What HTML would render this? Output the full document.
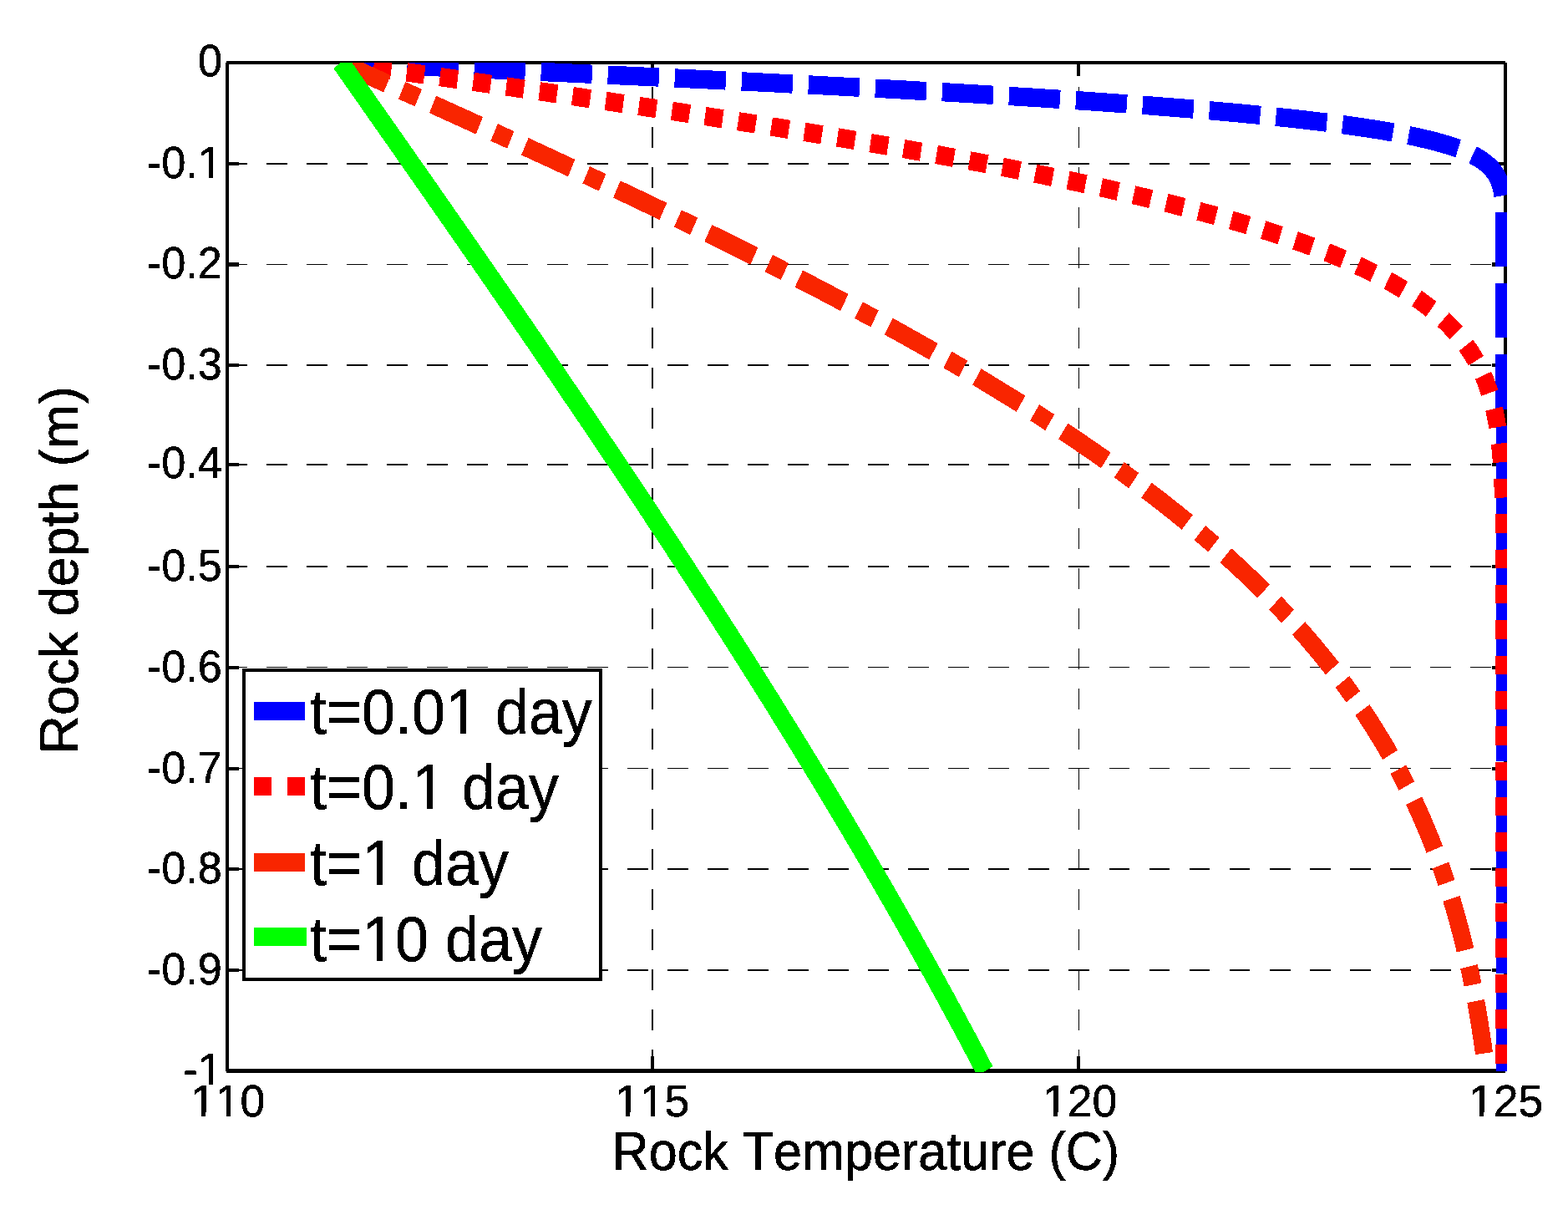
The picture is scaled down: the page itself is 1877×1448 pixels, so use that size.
<!DOCTYPE html>
<html lang="en"><head><meta charset="utf-8"><title>Rock temperature vs depth</title>
<style>html,body{margin:0;padding:0;background:#fff}body{width:1877px;height:1448px;overflow:hidden}svg{display:block}text{font-family:"Liberation Sans",sans-serif;fill:#000;font-kerning:none;font-variant-ligatures:none}</style>
</head><body>
<svg width="1877" height="1448" viewBox="0 0 1877 1448">
<rect x="0" y="0" width="1877" height="1448" fill="#fff"/>
<defs><clipPath id="ax"><rect x="270" y="75" width="1534" height="1208"/></clipPath>
<filter id="bin" x="-5%" y="-5%" width="110%" height="110%" color-interpolation-filters="sRGB"><feComponentTransfer><feFuncA type="discrete" tableValues="0 1"/></feComponentTransfer></filter></defs>
<g shape-rendering="crispEdges" fill="#000">
<rect x="270.8" y="195" width="24.9" height="2"/>
<rect x="318.8" y="195" width="24.9" height="2"/>
<rect x="366.9" y="195" width="24.9" height="2"/>
<rect x="414.9" y="195" width="24.9" height="2"/>
<rect x="462.9" y="195" width="24.9" height="2"/>
<rect x="510.9" y="195" width="24.9" height="2"/>
<rect x="559.0" y="195" width="24.9" height="2"/>
<rect x="607.0" y="195" width="24.9" height="2"/>
<rect x="655.0" y="195" width="24.9" height="2"/>
<rect x="703.1" y="195" width="24.9" height="2"/>
<rect x="751.1" y="195" width="24.9" height="2"/>
<rect x="799.1" y="195" width="24.9" height="2"/>
<rect x="847.2" y="195" width="24.9" height="2"/>
<rect x="895.2" y="195" width="24.9" height="2"/>
<rect x="943.2" y="195" width="24.9" height="2"/>
<rect x="991.2" y="195" width="24.9" height="2"/>
<rect x="1039.3" y="195" width="24.9" height="2"/>
<rect x="1087.3" y="195" width="24.9" height="2"/>
<rect x="1135.3" y="195" width="24.9" height="2"/>
<rect x="1183.4" y="195" width="24.9" height="2"/>
<rect x="1231.4" y="195" width="24.9" height="2"/>
<rect x="1279.4" y="195" width="24.9" height="2"/>
<rect x="1327.5" y="195" width="24.9" height="2"/>
<rect x="1375.5" y="195" width="24.9" height="2"/>
<rect x="1423.5" y="195" width="24.9" height="2"/>
<rect x="1471.5" y="195" width="24.9" height="2"/>
<rect x="1519.6" y="195" width="24.9" height="2"/>
<rect x="1567.6" y="195" width="24.9" height="2"/>
<rect x="1615.6" y="195" width="24.9" height="2"/>
<rect x="1663.7" y="195" width="24.9" height="2"/>
<rect x="1711.7" y="195" width="24.9" height="2"/>
<rect x="1759.7" y="195" width="24.9" height="2"/>
<rect x="270.8" y="316" width="24.9" height="1"/>
<rect x="318.8" y="316" width="24.9" height="1"/>
<rect x="366.9" y="316" width="24.9" height="1"/>
<rect x="414.9" y="316" width="24.9" height="1"/>
<rect x="462.9" y="316" width="24.9" height="1"/>
<rect x="510.9" y="316" width="24.9" height="1"/>
<rect x="559.0" y="316" width="24.9" height="1"/>
<rect x="607.0" y="316" width="24.9" height="1"/>
<rect x="655.0" y="316" width="24.9" height="1"/>
<rect x="703.1" y="316" width="24.9" height="1"/>
<rect x="751.1" y="316" width="24.9" height="1"/>
<rect x="799.1" y="316" width="24.9" height="1"/>
<rect x="847.2" y="316" width="24.9" height="1"/>
<rect x="895.2" y="316" width="24.9" height="1"/>
<rect x="943.2" y="316" width="24.9" height="1"/>
<rect x="991.2" y="316" width="24.9" height="1"/>
<rect x="1039.3" y="316" width="24.9" height="1"/>
<rect x="1087.3" y="316" width="24.9" height="1"/>
<rect x="1135.3" y="316" width="24.9" height="1"/>
<rect x="1183.4" y="316" width="24.9" height="1"/>
<rect x="1231.4" y="316" width="24.9" height="1"/>
<rect x="1279.4" y="316" width="24.9" height="1"/>
<rect x="1327.5" y="316" width="24.9" height="1"/>
<rect x="1375.5" y="316" width="24.9" height="1"/>
<rect x="1423.5" y="316" width="24.9" height="1"/>
<rect x="1471.5" y="316" width="24.9" height="1"/>
<rect x="1519.6" y="316" width="24.9" height="1"/>
<rect x="1567.6" y="316" width="24.9" height="1"/>
<rect x="1615.6" y="316" width="24.9" height="1"/>
<rect x="1663.7" y="316" width="24.9" height="1"/>
<rect x="1711.7" y="316" width="24.9" height="1"/>
<rect x="1759.7" y="316" width="24.9" height="1"/>
<rect x="270.8" y="436" width="24.9" height="2"/>
<rect x="318.8" y="436" width="24.9" height="2"/>
<rect x="366.9" y="436" width="24.9" height="2"/>
<rect x="414.9" y="436" width="24.9" height="2"/>
<rect x="462.9" y="436" width="24.9" height="2"/>
<rect x="510.9" y="436" width="24.9" height="2"/>
<rect x="559.0" y="436" width="24.9" height="2"/>
<rect x="607.0" y="436" width="24.9" height="2"/>
<rect x="655.0" y="436" width="24.9" height="2"/>
<rect x="703.1" y="436" width="24.9" height="2"/>
<rect x="751.1" y="436" width="24.9" height="2"/>
<rect x="799.1" y="436" width="24.9" height="2"/>
<rect x="847.2" y="436" width="24.9" height="2"/>
<rect x="895.2" y="436" width="24.9" height="2"/>
<rect x="943.2" y="436" width="24.9" height="2"/>
<rect x="991.2" y="436" width="24.9" height="2"/>
<rect x="1039.3" y="436" width="24.9" height="2"/>
<rect x="1087.3" y="436" width="24.9" height="2"/>
<rect x="1135.3" y="436" width="24.9" height="2"/>
<rect x="1183.4" y="436" width="24.9" height="2"/>
<rect x="1231.4" y="436" width="24.9" height="2"/>
<rect x="1279.4" y="436" width="24.9" height="2"/>
<rect x="1327.5" y="436" width="24.9" height="2"/>
<rect x="1375.5" y="436" width="24.9" height="2"/>
<rect x="1423.5" y="436" width="24.9" height="2"/>
<rect x="1471.5" y="436" width="24.9" height="2"/>
<rect x="1519.6" y="436" width="24.9" height="2"/>
<rect x="1567.6" y="436" width="24.9" height="2"/>
<rect x="1615.6" y="436" width="24.9" height="2"/>
<rect x="1663.7" y="436" width="24.9" height="2"/>
<rect x="1711.7" y="436" width="24.9" height="2"/>
<rect x="1759.7" y="436" width="24.9" height="2"/>
<rect x="270.8" y="555" width="24.9" height="2"/>
<rect x="318.8" y="555" width="24.9" height="2"/>
<rect x="366.9" y="555" width="24.9" height="2"/>
<rect x="414.9" y="555" width="24.9" height="2"/>
<rect x="462.9" y="555" width="24.9" height="2"/>
<rect x="510.9" y="555" width="24.9" height="2"/>
<rect x="559.0" y="555" width="24.9" height="2"/>
<rect x="607.0" y="555" width="24.9" height="2"/>
<rect x="655.0" y="555" width="24.9" height="2"/>
<rect x="703.1" y="555" width="24.9" height="2"/>
<rect x="751.1" y="555" width="24.9" height="2"/>
<rect x="799.1" y="555" width="24.9" height="2"/>
<rect x="847.2" y="555" width="24.9" height="2"/>
<rect x="895.2" y="555" width="24.9" height="2"/>
<rect x="943.2" y="555" width="24.9" height="2"/>
<rect x="991.2" y="555" width="24.9" height="2"/>
<rect x="1039.3" y="555" width="24.9" height="2"/>
<rect x="1087.3" y="555" width="24.9" height="2"/>
<rect x="1135.3" y="555" width="24.9" height="2"/>
<rect x="1183.4" y="555" width="24.9" height="2"/>
<rect x="1231.4" y="555" width="24.9" height="2"/>
<rect x="1279.4" y="555" width="24.9" height="2"/>
<rect x="1327.5" y="555" width="24.9" height="2"/>
<rect x="1375.5" y="555" width="24.9" height="2"/>
<rect x="1423.5" y="555" width="24.9" height="2"/>
<rect x="1471.5" y="555" width="24.9" height="2"/>
<rect x="1519.6" y="555" width="24.9" height="2"/>
<rect x="1567.6" y="555" width="24.9" height="2"/>
<rect x="1615.6" y="555" width="24.9" height="2"/>
<rect x="1663.7" y="555" width="24.9" height="2"/>
<rect x="1711.7" y="555" width="24.9" height="2"/>
<rect x="1759.7" y="555" width="24.9" height="2"/>
<rect x="270.8" y="677" width="24.9" height="2"/>
<rect x="318.8" y="677" width="24.9" height="2"/>
<rect x="366.9" y="677" width="24.9" height="2"/>
<rect x="414.9" y="677" width="24.9" height="2"/>
<rect x="462.9" y="677" width="24.9" height="2"/>
<rect x="510.9" y="677" width="24.9" height="2"/>
<rect x="559.0" y="677" width="24.9" height="2"/>
<rect x="607.0" y="677" width="24.9" height="2"/>
<rect x="655.0" y="677" width="24.9" height="2"/>
<rect x="703.1" y="677" width="24.9" height="2"/>
<rect x="751.1" y="677" width="24.9" height="2"/>
<rect x="799.1" y="677" width="24.9" height="2"/>
<rect x="847.2" y="677" width="24.9" height="2"/>
<rect x="895.2" y="677" width="24.9" height="2"/>
<rect x="943.2" y="677" width="24.9" height="2"/>
<rect x="991.2" y="677" width="24.9" height="2"/>
<rect x="1039.3" y="677" width="24.9" height="2"/>
<rect x="1087.3" y="677" width="24.9" height="2"/>
<rect x="1135.3" y="677" width="24.9" height="2"/>
<rect x="1183.4" y="677" width="24.9" height="2"/>
<rect x="1231.4" y="677" width="24.9" height="2"/>
<rect x="1279.4" y="677" width="24.9" height="2"/>
<rect x="1327.5" y="677" width="24.9" height="2"/>
<rect x="1375.5" y="677" width="24.9" height="2"/>
<rect x="1423.5" y="677" width="24.9" height="2"/>
<rect x="1471.5" y="677" width="24.9" height="2"/>
<rect x="1519.6" y="677" width="24.9" height="2"/>
<rect x="1567.6" y="677" width="24.9" height="2"/>
<rect x="1615.6" y="677" width="24.9" height="2"/>
<rect x="1663.7" y="677" width="24.9" height="2"/>
<rect x="1711.7" y="677" width="24.9" height="2"/>
<rect x="1759.7" y="677" width="24.9" height="2"/>
<rect x="270.8" y="798" width="24.9" height="1"/>
<rect x="318.8" y="798" width="24.9" height="1"/>
<rect x="366.9" y="798" width="24.9" height="1"/>
<rect x="414.9" y="798" width="24.9" height="1"/>
<rect x="462.9" y="798" width="24.9" height="1"/>
<rect x="510.9" y="798" width="24.9" height="1"/>
<rect x="559.0" y="798" width="24.9" height="1"/>
<rect x="607.0" y="798" width="24.9" height="1"/>
<rect x="655.0" y="798" width="24.9" height="1"/>
<rect x="703.1" y="798" width="24.9" height="1"/>
<rect x="751.1" y="798" width="24.9" height="1"/>
<rect x="799.1" y="798" width="24.9" height="1"/>
<rect x="847.2" y="798" width="24.9" height="1"/>
<rect x="895.2" y="798" width="24.9" height="1"/>
<rect x="943.2" y="798" width="24.9" height="1"/>
<rect x="991.2" y="798" width="24.9" height="1"/>
<rect x="1039.3" y="798" width="24.9" height="1"/>
<rect x="1087.3" y="798" width="24.9" height="1"/>
<rect x="1135.3" y="798" width="24.9" height="1"/>
<rect x="1183.4" y="798" width="24.9" height="1"/>
<rect x="1231.4" y="798" width="24.9" height="1"/>
<rect x="1279.4" y="798" width="24.9" height="1"/>
<rect x="1327.5" y="798" width="24.9" height="1"/>
<rect x="1375.5" y="798" width="24.9" height="1"/>
<rect x="1423.5" y="798" width="24.9" height="1"/>
<rect x="1471.5" y="798" width="24.9" height="1"/>
<rect x="1519.6" y="798" width="24.9" height="1"/>
<rect x="1567.6" y="798" width="24.9" height="1"/>
<rect x="1615.6" y="798" width="24.9" height="1"/>
<rect x="1663.7" y="798" width="24.9" height="1"/>
<rect x="1711.7" y="798" width="24.9" height="1"/>
<rect x="1759.7" y="798" width="24.9" height="1"/>
<rect x="270.8" y="919" width="24.9" height="1"/>
<rect x="318.8" y="919" width="24.9" height="1"/>
<rect x="366.9" y="919" width="24.9" height="1"/>
<rect x="414.9" y="919" width="24.9" height="1"/>
<rect x="462.9" y="919" width="24.9" height="1"/>
<rect x="510.9" y="919" width="24.9" height="1"/>
<rect x="559.0" y="919" width="24.9" height="1"/>
<rect x="607.0" y="919" width="24.9" height="1"/>
<rect x="655.0" y="919" width="24.9" height="1"/>
<rect x="703.1" y="919" width="24.9" height="1"/>
<rect x="751.1" y="919" width="24.9" height="1"/>
<rect x="799.1" y="919" width="24.9" height="1"/>
<rect x="847.2" y="919" width="24.9" height="1"/>
<rect x="895.2" y="919" width="24.9" height="1"/>
<rect x="943.2" y="919" width="24.9" height="1"/>
<rect x="991.2" y="919" width="24.9" height="1"/>
<rect x="1039.3" y="919" width="24.9" height="1"/>
<rect x="1087.3" y="919" width="24.9" height="1"/>
<rect x="1135.3" y="919" width="24.9" height="1"/>
<rect x="1183.4" y="919" width="24.9" height="1"/>
<rect x="1231.4" y="919" width="24.9" height="1"/>
<rect x="1279.4" y="919" width="24.9" height="1"/>
<rect x="1327.5" y="919" width="24.9" height="1"/>
<rect x="1375.5" y="919" width="24.9" height="1"/>
<rect x="1423.5" y="919" width="24.9" height="1"/>
<rect x="1471.5" y="919" width="24.9" height="1"/>
<rect x="1519.6" y="919" width="24.9" height="1"/>
<rect x="1567.6" y="919" width="24.9" height="1"/>
<rect x="1615.6" y="919" width="24.9" height="1"/>
<rect x="1663.7" y="919" width="24.9" height="1"/>
<rect x="1711.7" y="919" width="24.9" height="1"/>
<rect x="1759.7" y="919" width="24.9" height="1"/>
<rect x="270.8" y="1039" width="24.9" height="2"/>
<rect x="318.8" y="1039" width="24.9" height="2"/>
<rect x="366.9" y="1039" width="24.9" height="2"/>
<rect x="414.9" y="1039" width="24.9" height="2"/>
<rect x="462.9" y="1039" width="24.9" height="2"/>
<rect x="510.9" y="1039" width="24.9" height="2"/>
<rect x="559.0" y="1039" width="24.9" height="2"/>
<rect x="607.0" y="1039" width="24.9" height="2"/>
<rect x="655.0" y="1039" width="24.9" height="2"/>
<rect x="703.1" y="1039" width="24.9" height="2"/>
<rect x="751.1" y="1039" width="24.9" height="2"/>
<rect x="799.1" y="1039" width="24.9" height="2"/>
<rect x="847.2" y="1039" width="24.9" height="2"/>
<rect x="895.2" y="1039" width="24.9" height="2"/>
<rect x="943.2" y="1039" width="24.9" height="2"/>
<rect x="991.2" y="1039" width="24.9" height="2"/>
<rect x="1039.3" y="1039" width="24.9" height="2"/>
<rect x="1087.3" y="1039" width="24.9" height="2"/>
<rect x="1135.3" y="1039" width="24.9" height="2"/>
<rect x="1183.4" y="1039" width="24.9" height="2"/>
<rect x="1231.4" y="1039" width="24.9" height="2"/>
<rect x="1279.4" y="1039" width="24.9" height="2"/>
<rect x="1327.5" y="1039" width="24.9" height="2"/>
<rect x="1375.5" y="1039" width="24.9" height="2"/>
<rect x="1423.5" y="1039" width="24.9" height="2"/>
<rect x="1471.5" y="1039" width="24.9" height="2"/>
<rect x="1519.6" y="1039" width="24.9" height="2"/>
<rect x="1567.6" y="1039" width="24.9" height="2"/>
<rect x="1615.6" y="1039" width="24.9" height="2"/>
<rect x="1663.7" y="1039" width="24.9" height="2"/>
<rect x="1711.7" y="1039" width="24.9" height="2"/>
<rect x="1759.7" y="1039" width="24.9" height="2"/>
<rect x="270.8" y="1160" width="24.9" height="2"/>
<rect x="318.8" y="1160" width="24.9" height="2"/>
<rect x="366.9" y="1160" width="24.9" height="2"/>
<rect x="414.9" y="1160" width="24.9" height="2"/>
<rect x="462.9" y="1160" width="24.9" height="2"/>
<rect x="510.9" y="1160" width="24.9" height="2"/>
<rect x="559.0" y="1160" width="24.9" height="2"/>
<rect x="607.0" y="1160" width="24.9" height="2"/>
<rect x="655.0" y="1160" width="24.9" height="2"/>
<rect x="703.1" y="1160" width="24.9" height="2"/>
<rect x="751.1" y="1160" width="24.9" height="2"/>
<rect x="799.1" y="1160" width="24.9" height="2"/>
<rect x="847.2" y="1160" width="24.9" height="2"/>
<rect x="895.2" y="1160" width="24.9" height="2"/>
<rect x="943.2" y="1160" width="24.9" height="2"/>
<rect x="991.2" y="1160" width="24.9" height="2"/>
<rect x="1039.3" y="1160" width="24.9" height="2"/>
<rect x="1087.3" y="1160" width="24.9" height="2"/>
<rect x="1135.3" y="1160" width="24.9" height="2"/>
<rect x="1183.4" y="1160" width="24.9" height="2"/>
<rect x="1231.4" y="1160" width="24.9" height="2"/>
<rect x="1279.4" y="1160" width="24.9" height="2"/>
<rect x="1327.5" y="1160" width="24.9" height="2"/>
<rect x="1375.5" y="1160" width="24.9" height="2"/>
<rect x="1423.5" y="1160" width="24.9" height="2"/>
<rect x="1471.5" y="1160" width="24.9" height="2"/>
<rect x="1519.6" y="1160" width="24.9" height="2"/>
<rect x="1567.6" y="1160" width="24.9" height="2"/>
<rect x="1615.6" y="1160" width="24.9" height="2"/>
<rect x="1663.7" y="1160" width="24.9" height="2"/>
<rect x="1711.7" y="1160" width="24.9" height="2"/>
<rect x="1759.7" y="1160" width="24.9" height="2"/>
<rect x="780" y="1256.4" width="2" height="24.6"/>
<rect x="780" y="1208.4" width="2" height="24.6"/>
<rect x="780" y="1160.4" width="2" height="24.6"/>
<rect x="780" y="1112.4" width="2" height="24.6"/>
<rect x="780" y="1064.4" width="2" height="24.6"/>
<rect x="780" y="1016.4" width="2" height="24.6"/>
<rect x="780" y="968.4" width="2" height="24.6"/>
<rect x="780" y="920.4" width="2" height="24.6"/>
<rect x="780" y="872.4" width="2" height="24.6"/>
<rect x="780" y="824.4" width="2" height="24.6"/>
<rect x="780" y="776.4" width="2" height="24.6"/>
<rect x="780" y="728.4" width="2" height="24.6"/>
<rect x="780" y="680.4" width="2" height="24.6"/>
<rect x="780" y="632.4" width="2" height="24.6"/>
<rect x="780" y="584.4" width="2" height="24.6"/>
<rect x="780" y="536.4" width="2" height="24.6"/>
<rect x="780" y="488.4" width="2" height="24.6"/>
<rect x="780" y="440.4" width="2" height="24.6"/>
<rect x="780" y="392.4" width="2" height="24.6"/>
<rect x="780" y="344.4" width="2" height="24.6"/>
<rect x="780" y="296.4" width="2" height="24.6"/>
<rect x="780" y="248.4" width="2" height="24.6"/>
<rect x="780" y="200.4" width="2" height="24.6"/>
<rect x="780" y="152.4" width="2" height="24.6"/>
<rect x="780" y="104.4" width="2" height="24.6"/>
<rect x="780" y="77.0" width="2" height="4.0"/>
<rect x="1291" y="1256.4" width="1" height="24.6"/>
<rect x="1291" y="1208.4" width="1" height="24.6"/>
<rect x="1291" y="1160.4" width="1" height="24.6"/>
<rect x="1291" y="1112.4" width="1" height="24.6"/>
<rect x="1291" y="1064.4" width="1" height="24.6"/>
<rect x="1291" y="1016.4" width="1" height="24.6"/>
<rect x="1291" y="968.4" width="1" height="24.6"/>
<rect x="1291" y="920.4" width="1" height="24.6"/>
<rect x="1291" y="872.4" width="1" height="24.6"/>
<rect x="1291" y="824.4" width="1" height="24.6"/>
<rect x="1291" y="776.4" width="1" height="24.6"/>
<rect x="1291" y="728.4" width="1" height="24.6"/>
<rect x="1291" y="680.4" width="1" height="24.6"/>
<rect x="1291" y="632.4" width="1" height="24.6"/>
<rect x="1291" y="584.4" width="1" height="24.6"/>
<rect x="1291" y="536.4" width="1" height="24.6"/>
<rect x="1291" y="488.4" width="1" height="24.6"/>
<rect x="1291" y="440.4" width="1" height="24.6"/>
<rect x="1291" y="392.4" width="1" height="24.6"/>
<rect x="1291" y="344.4" width="1" height="24.6"/>
<rect x="1291" y="296.4" width="1" height="24.6"/>
<rect x="1291" y="248.4" width="1" height="24.6"/>
<rect x="1291" y="200.4" width="1" height="24.6"/>
<rect x="1291" y="152.4" width="1" height="24.6"/>
<rect x="1291" y="104.4" width="1" height="24.6"/>
<rect x="1291" y="77.0" width="1" height="4.0"/>
</g>
<g shape-rendering="crispEdges" fill="#000">
<rect x="271" y="73" width="1531" height="4"/>
<rect x="271" y="1279" width="1531" height="5"/>
<rect x="270" y="75" width="4" height="1207"/>
<rect x="1800" y="75" width="4" height="1207"/>
<rect x="779" y="77" width="4" height="13.5"/>
<rect x="779" y="1264" width="4" height="15"/>
<rect x="1289" y="77" width="4" height="13.5"/>
<rect x="1289" y="1264" width="4" height="15"/>
<rect x="274" y="194" width="12" height="4"/>
<rect x="1786" y="194" width="14" height="4"/>
<rect x="274" y="314" width="12" height="5"/>
<rect x="1786" y="314" width="14" height="5"/>
<rect x="274" y="435" width="12" height="4"/>
<rect x="1786" y="435" width="14" height="4"/>
<rect x="274" y="554" width="12" height="4"/>
<rect x="1786" y="554" width="14" height="4"/>
<rect x="274" y="676" width="12" height="4"/>
<rect x="1786" y="676" width="14" height="4"/>
<rect x="274" y="797" width="12" height="4"/>
<rect x="1786" y="797" width="14" height="4"/>
<rect x="274" y="918" width="12" height="4"/>
<rect x="1786" y="918" width="14" height="4"/>
<rect x="274" y="1038" width="12" height="4"/>
<rect x="1786" y="1038" width="14" height="4"/>
<rect x="274" y="1159" width="12" height="4"/>
<rect x="1786" y="1159" width="14" height="4"/>
</g>
<g clip-path="url(#ax)"><g transform="scale(0.9426,0.9962)" fill="none" stroke-linecap="butt" stroke-linejoin="round" shape-rendering="crispEdges">
<path d="M432.3 75.3 L438.2 75.5 L444.1 75.8 L450.0 76.0 L455.9 76.3 L461.8 76.5 L467.7 76.8 L473.6 77.0 L479.5 77.3 L485.4 77.6 L491.4 77.8 L497.3 78.1 M517.2 78.9 L523.1 79.2 L529.0 79.4 L534.9 79.7 L540.9 79.9 L546.8 80.2 L552.7 80.4 L558.6 80.7 L564.5 80.9 L570.4 81.2 L576.3 81.4 L582.2 81.7 M602.2 82.6 L608.1 82.8 L614.0 83.1 L619.9 83.3 L625.8 83.6 L631.7 83.8 L637.6 84.1 L643.5 84.3 L649.4 84.6 L655.3 84.9 L661.2 85.1 L667.1 85.4 M687.1 86.2 L693.0 86.5 L698.9 86.8 L704.8 87.0 L710.7 87.3 L716.6 87.5 L722.5 87.8 L728.4 88.1 L734.3 88.3 L740.2 88.6 L746.1 88.8 L752.0 89.1 M772.0 90.0 L777.9 90.3 L783.8 90.5 L789.7 90.8 L795.6 91.0 L801.5 91.3 L807.4 91.6 L813.3 91.8 L819.2 92.1 L825.1 92.4 L831.0 92.6 L836.9 92.9 M856.9 93.8 L862.8 94.1 L868.7 94.4 L874.6 94.6 L880.5 94.9 L886.4 95.2 L892.3 95.4 L898.2 95.7 L904.1 96.0 L910.0 96.3 L915.9 96.5 L921.8 96.8 M941.8 97.8 L947.7 98.0 L953.6 98.3 L959.5 98.6 L965.4 98.9 L971.3 99.2 L977.2 99.4 L983.1 99.7 L989.0 100.0 L994.9 100.3 L1000.8 100.6 L1006.7 100.9 M1026.7 101.8 L1032.6 102.1 L1038.5 102.4 L1044.4 102.7 L1050.3 103.0 L1056.2 103.3 L1062.1 103.6 L1068.0 103.9 L1073.9 104.2 L1079.8 104.5 L1085.7 104.8 L1091.6 105.1 M1111.6 106.1 L1117.5 106.4 L1123.4 106.7 L1129.3 107.0 L1135.2 107.3 L1141.1 107.6 L1147.0 107.9 L1152.9 108.2 L1158.8 108.6 L1164.7 108.9 L1170.6 109.2 L1176.5 109.5 M1196.5 110.6 L1202.4 110.9 L1208.3 111.2 L1214.2 111.6 L1220.1 111.9 L1226.0 112.2 L1231.9 112.5 L1237.8 112.9 L1243.7 113.2 L1249.6 113.5 L1255.5 113.9 L1261.4 114.2 M1281.4 115.4 L1287.3 115.7 L1293.2 116.1 L1299.1 116.4 L1305.0 116.8 L1310.9 117.1 L1316.8 117.5 L1322.7 117.8 L1328.5 118.2 L1334.4 118.6 L1340.3 118.9 L1346.2 119.3 M1366.2 120.6 L1372.1 120.9 L1378.0 121.3 L1383.9 121.7 L1389.8 122.1 L1395.7 122.5 L1401.6 122.9 L1407.5 123.3 L1413.4 123.7 L1419.3 124.1 L1425.2 124.5 L1431.1 124.9 M1451.0 126.3 L1456.9 126.7 L1462.8 127.1 L1468.7 127.6 L1474.6 128.0 L1480.5 128.4 L1486.4 128.9 L1492.3 129.3 L1498.2 129.8 L1504.0 130.2 L1509.9 130.7 L1515.8 131.1 M1535.8 132.7 L1541.7 133.2 L1547.5 133.7 L1553.4 134.2 L1559.3 134.7 L1565.2 135.2 L1571.1 135.7 L1577.0 136.2 L1582.9 136.8 L1588.7 137.3 L1594.6 137.8 L1600.5 138.4 M1620.4 140.3 L1626.3 140.9 L1632.2 141.5 L1638.1 142.1 L1643.9 142.7 L1649.8 143.3 L1655.7 143.9 L1661.6 144.6 L1667.4 145.2 L1673.3 145.9 L1679.2 146.6 L1685.1 147.2 M1704.9 149.7 L1710.8 150.4 L1716.6 151.2 L1722.5 152.0 L1728.3 152.8 L1734.2 153.6 L1740.0 154.5 L1745.9 155.3 L1751.7 156.2 L1757.6 157.1 L1763.4 158.1 L1769.2 159.1 M1788.9 162.6 L1794.7 163.8 L1800.5 164.9 L1806.3 166.2 L1812.0 167.5 L1817.8 168.8 L1823.5 170.2 L1829.2 171.7 L1834.9 173.2 L1840.6 174.9 L1846.3 176.7 L1851.9 178.5 M1870.4 186.1 L1875.6 188.8 L1880.8 191.8 L1885.7 195.1 L1890.3 198.8 L1894.6 202.9 L1898.4 207.5 L1901.6 212.5 L1904.1 217.8 L1906.1 223.4 L1907.5 229.2 L1908.5 235.0 M1910.1 255.0 L1910.3 260.9 L1910.4 266.9 L1910.5 272.8 L1910.5 278.7 L1910.6 284.6 L1910.6 290.6 L1910.6 296.5 L1910.6 302.4 L1910.6 308.4 L1910.6 314.3 L1910.6 320.2 M1910.6 340.3 L1910.6 346.2 L1910.6 352.2 L1910.6 358.1 L1910.6 364.0 L1910.6 369.9 L1910.6 375.9 L1910.6 381.8 L1910.6 387.7 L1910.6 393.7 L1910.6 399.6 L1910.6 405.5 M1910.6 425.6 L1910.6 431.6 L1910.6 437.6 L1910.6 443.5 L1910.6 449.5 L1910.6 455.5 L1910.6 461.5 L1910.6 467.4 L1910.6 473.4 L1910.6 479.4 L1910.6 485.4 L1910.6 491.4 M1911.5 510.9 L1911.5 516.8 L1911.5 522.7 L1911.5 528.6 L1911.5 534.5 L1911.5 540.4 L1911.5 546.3 L1911.5 552.2 L1911.5 558.1 L1911.5 563.9 L1911.5 569.8 L1911.5 575.7 M1911.5 595.7 L1911.5 601.6 L1911.5 607.5 L1911.5 613.4 L1911.5 619.2 L1911.5 625.1 L1911.5 631.0 L1911.5 636.9 L1911.5 642.8 L1911.5 648.7 L1911.5 654.6 L1911.5 660.5 M1911.5 680.4 L1911.5 686.3 L1911.5 692.2 L1911.5 698.1 L1911.5 704.0 L1911.5 709.9 L1911.5 715.8 L1911.5 721.7 L1911.5 727.6 L1911.5 733.5 L1911.5 739.4 L1911.5 745.3 M1911.5 765.2 L1911.5 771.1 L1911.5 777.0 L1911.5 782.9 L1911.5 788.8 L1911.5 794.7 L1911.5 800.6 L1911.5 806.5 L1911.5 812.4 L1911.5 818.3 L1911.5 824.2 L1911.5 830.0 M1911.5 850.0 L1911.5 855.9 L1911.5 861.8 L1911.5 867.7 L1911.5 873.6 L1911.5 879.5 L1911.5 885.3 L1911.5 891.2 L1911.5 897.1 L1911.5 903.0 L1911.5 908.9 L1911.5 914.8 M1911.5 934.8 L1911.5 940.7 L1911.5 946.5 L1911.5 952.4 L1911.5 958.3 L1911.5 964.2 L1911.5 970.1 L1911.5 976.0 L1911.5 981.9 L1911.5 987.8 L1911.5 993.7 L1911.5 999.6 M1911.5 1019.5 L1911.5 1025.4 L1911.5 1031.3 L1911.5 1037.2 L1911.5 1043.1 L1911.5 1049.0 L1911.5 1054.9 L1911.5 1060.8 L1911.5 1066.7 L1911.5 1072.6 L1911.5 1078.5 L1911.5 1084.4 M1911.5 1104.3 L1911.5 1110.2 L1911.5 1116.2 L1911.5 1122.1 L1911.5 1128.0 L1911.5 1134.0 L1911.5 1139.9 L1911.5 1145.8 L1911.5 1151.7 L1911.5 1157.7 L1911.5 1163.6 L1911.5 1169.5 M1911.5 1189.6 L1911.5 1195.5 L1911.5 1201.5 L1911.5 1207.4 L1911.5 1213.3 L1911.5 1219.2 L1911.5 1225.2 L1911.5 1231.1 L1911.5 1237.0 L1911.5 1243.0 L1911.5 1248.9 L1911.5 1254.8 M1911.5 1274.8 L1911.5 1280.7 L1911.5 1286.7" stroke="#0000ff" stroke-width="22.4"/>
<path d="M432.3 75.3 L437.9 76.0 L443.6 76.8 L449.2 77.6 L454.8 78.3 M474.4 81.0 L480.1 81.7 L485.7 82.5 L491.3 83.3 L496.9 84.0 M516.5 86.7 L522.2 87.4 L527.8 88.2 L533.4 89.0 L539.0 89.7 M558.7 92.4 L564.3 93.1 L569.9 93.9 L575.5 94.7 L581.2 95.4 M600.8 98.1 L606.4 98.9 L612.0 99.6 L617.6 100.4 L623.3 101.2 M642.9 103.9 L648.5 104.6 L654.1 105.4 L659.8 106.2 L665.4 107.0 M685.0 109.7 L690.6 110.4 L696.2 111.2 L701.9 112.0 L707.5 112.8 M727.1 115.5 L732.7 116.3 L738.3 117.1 L743.9 117.9 L749.6 118.7 M769.2 121.4 L774.8 122.2 L780.4 123.0 L786.0 123.8 L791.6 124.6 M811.3 127.4 L816.9 128.2 L822.5 129.0 L828.1 129.8 L833.7 130.6 M853.3 133.4 L858.9 134.2 L864.6 135.0 L870.2 135.8 L875.8 136.7 M895.4 139.5 L901.0 140.3 L906.6 141.2 L912.2 142.0 L917.8 142.8 M937.4 145.7 L943.0 146.6 L948.6 147.4 L954.3 148.2 L959.9 149.1 M979.5 152.0 L985.1 152.9 L990.7 153.7 L996.3 154.6 L1001.9 155.5 M1021.5 158.5 L1027.1 159.3 L1032.7 160.2 L1038.3 161.1 L1043.9 162.0 M1063.5 165.0 L1069.1 165.9 L1074.7 166.8 L1080.3 167.7 L1085.9 168.6 M1105.4 171.8 L1111.0 172.7 L1116.6 173.6 L1122.2 174.5 L1127.8 175.4 M1147.4 178.7 L1153.0 179.6 L1158.5 180.5 L1164.1 181.5 L1169.7 182.4 M1189.3 185.7 L1194.9 186.7 L1200.4 187.7 L1206.0 188.6 L1211.6 189.6 M1231.1 193.0 L1236.7 194.0 L1242.3 195.0 L1247.9 196.0 L1253.5 197.1 M1272.9 200.6 L1278.5 201.6 L1284.1 202.7 L1289.7 203.7 L1295.3 204.8 M1314.7 208.4 L1320.3 209.5 L1325.9 210.6 L1331.4 211.7 L1337.0 212.8 M1356.4 216.6 L1362.0 217.7 L1367.6 218.8 L1373.1 220.0 L1378.7 221.1 M1398.1 225.1 L1403.6 226.3 L1409.2 227.5 L1414.7 228.7 L1420.3 229.9 M1439.6 234.1 L1445.1 235.3 L1450.7 236.6 L1456.2 237.8 L1461.7 239.1 M1481.0 243.6 L1486.6 244.9 L1492.1 246.2 L1497.6 247.6 L1503.1 248.9 M1522.3 253.7 L1527.8 255.1 L1533.3 256.5 L1538.8 257.9 L1544.3 259.3 M1563.4 264.5 L1568.9 266.0 L1574.4 267.5 L1579.8 269.0 L1585.3 270.6 M1604.3 276.1 L1609.7 277.8 L1615.1 279.4 L1620.6 281.1 L1626.0 282.8 M1644.8 288.9 L1650.2 290.7 L1655.6 292.5 L1660.9 294.4 L1666.3 296.3 M1684.9 303.0 L1690.2 305.0 L1695.5 307.1 L1700.8 309.2 L1706.1 311.3 M1724.3 318.9 L1729.4 321.2 L1734.6 323.5 L1739.7 325.9 L1744.9 328.3 M1762.5 337.1 L1767.5 339.7 L1772.5 342.4 L1777.4 345.2 L1782.3 348.0 M1799.1 358.4 L1803.8 361.5 L1808.5 364.8 L1813.1 368.1 L1817.6 371.4 M1832.9 383.9 L1837.1 387.7 L1841.2 391.6 L1845.2 395.6 L1849.1 399.7 M1861.8 414.8 L1865.2 419.3 L1868.4 423.9 L1871.5 428.7 L1874.4 433.5 M1883.6 451.0 L1885.9 456.2 L1888.0 461.4 L1890.0 466.7 L1891.8 472.0 M1897.3 491.0 L1898.6 496.5 L1899.8 502.0 L1900.9 507.6 L1901.8 513.2 M1904.6 532.7 L1905.3 538.4 L1905.9 544.0 L1906.4 549.7 L1906.9 555.3 M1908.2 575.1 L1908.4 580.8 L1908.7 586.4 L1908.9 592.1 L1909.1 597.8 M1909.7 617.6 L1909.8 623.2 L1909.9 628.9 L1910.0 634.6 L1910.1 640.2 M1910.3 660.0 L1910.4 665.7 L1910.4 671.4 L1910.4 677.1 L1910.5 682.7 M1910.6 702.5 L1910.6 708.2 L1910.6 713.9 L1910.6 719.6 L1910.6 725.2 M1910.6 745.0 L1910.6 750.7 L1910.6 756.4 L1910.6 762.1 L1910.7 767.7 M1910.7 787.5 L1910.7 793.2 L1910.7 798.9 L1910.7 804.6 L1910.7 810.2 M1910.7 830.0 L1910.7 835.7 L1910.7 841.4 L1910.7 847.1 L1910.7 852.7 M1910.7 872.5 L1910.7 878.2 L1910.7 883.9 L1910.7 889.6 L1910.7 895.2 M1910.7 915.0 L1910.7 920.7 L1910.7 926.4 L1910.7 932.1 L1910.7 937.7 M1910.7 957.5 L1910.7 963.2 L1910.7 968.9 L1910.7 974.6 L1910.7 980.2 M1910.7 1000.0 L1910.7 1005.7 L1910.7 1011.4 L1910.7 1017.1 L1910.7 1022.7 M1910.7 1042.5 L1910.7 1048.2 L1910.7 1053.9 L1910.7 1059.6 L1910.7 1065.2 M1910.7 1085.0 L1910.7 1090.7 L1910.7 1096.4 L1910.7 1102.1 L1910.7 1107.7 M1910.7 1127.5 L1910.7 1133.2 L1910.7 1138.9 L1910.7 1144.6 L1910.7 1150.2 M1910.7 1170.0 L1910.7 1175.7 L1910.7 1181.4 L1910.7 1187.1 L1910.7 1192.7 M1910.7 1212.5 L1910.7 1218.2 L1910.7 1223.9 L1910.7 1229.6 L1910.7 1235.2 M1910.7 1255.0 L1910.7 1260.7 L1910.7 1266.4 L1910.7 1272.1 L1910.7 1277.7" stroke="#ff0000" stroke-width="22.4"/>
<path d="M432.3 75.3 L437.7 77.6 L443.1 79.9 L448.5 82.2 L453.9 84.5 L459.3 86.8 L464.7 89.1 L470.1 91.4 L475.5 93.7 L480.9 96.0 L486.3 98.3 L491.7 100.7 M510.5 108.7 L515.7 110.9 L520.9 113.1 L526.1 115.3 L531.3 117.6 M549.6 125.4 L555.0 127.7 L560.3 130.0 L565.7 132.3 L571.1 134.7 L576.5 137.0 L581.9 139.3 L587.3 141.6 L592.7 143.9 L598.1 146.3 L603.5 148.6 L608.9 150.9 M627.6 159.0 L632.8 161.3 L638.0 163.5 L643.2 165.8 L648.4 168.0 M666.6 175.9 L672.0 178.3 L677.4 180.6 L682.8 183.0 L688.1 185.3 L693.5 187.7 L698.9 190.0 L704.3 192.4 L709.7 194.8 L715.0 197.1 L720.4 199.5 L725.8 201.8 M744.5 210.1 L749.6 212.4 L754.8 214.7 L759.9 216.9 L765.1 219.2 M783.3 227.3 L788.7 229.7 L794.0 232.1 L799.4 234.5 L804.7 236.9 L810.1 239.3 L815.4 241.8 L820.8 244.2 L826.1 246.6 L831.5 249.0 L836.8 251.4 L842.2 253.9 M860.8 262.3 L865.9 264.7 L871.0 267.0 L876.2 269.4 L881.3 271.8 M899.4 280.1 L904.7 282.6 L910.0 285.0 L915.3 287.5 L920.7 290.0 L926.0 292.5 L931.3 295.0 L936.6 297.5 L941.9 300.0 L947.2 302.5 L952.5 305.0 L957.8 307.5 M976.3 316.3 L981.4 318.7 L986.5 321.2 L991.5 323.6 L996.6 326.1 M1014.5 334.8 L1019.8 337.4 L1025.1 339.9 L1030.4 342.5 L1035.6 345.1 L1040.9 347.7 L1046.2 350.3 L1051.4 352.9 L1056.7 355.5 L1061.9 358.2 L1067.2 360.8 L1072.4 363.4 M1090.6 372.6 L1095.7 375.2 L1100.7 377.8 L1105.7 380.3 L1110.8 382.9 M1128.4 392.1 L1133.7 394.8 L1138.9 397.5 L1144.1 400.2 L1149.3 402.9 L1154.4 405.7 L1159.6 408.4 L1164.8 411.2 L1170.0 414.0 L1175.2 416.7 L1180.4 419.5 L1185.5 422.3 M1203.4 432.1 L1208.4 434.8 L1213.3 437.5 L1218.3 440.3 L1223.2 443.0 M1240.6 452.7 L1245.7 455.6 L1250.8 458.5 L1255.9 461.5 L1261.0 464.4 L1266.1 467.3 L1271.1 470.3 L1276.2 473.2 L1281.3 476.2 L1286.4 479.1 L1291.4 482.1 L1296.5 485.1 M1314.0 495.6 L1318.8 498.5 L1323.6 501.5 L1328.4 504.4 L1333.3 507.4 M1350.2 517.9 L1355.1 521.0 L1360.1 524.2 L1365.0 527.3 L1370.0 530.5 L1374.9 533.7 L1379.8 536.9 L1384.8 540.1 L1389.7 543.3 L1394.6 546.5 L1399.5 549.8 L1404.4 553.0 M1421.3 564.4 L1425.9 567.6 L1430.6 570.9 L1435.2 574.1 L1439.8 577.3 M1456.1 588.8 L1460.8 592.3 L1465.6 595.7 L1470.3 599.2 L1475.1 602.6 L1479.8 606.1 L1484.5 609.7 L1489.2 613.2 L1493.9 616.7 L1498.5 620.3 L1503.2 623.9 L1507.8 627.5 M1523.8 640.1 L1528.2 643.7 L1532.6 647.2 L1537.0 650.8 L1541.4 654.4 M1556.6 667.2 L1561.1 671.0 L1565.5 674.8 L1570.0 678.7 L1574.4 682.5 L1578.8 686.4 L1583.1 690.4 L1587.5 694.3 L1591.8 698.3 L1596.2 702.2 L1600.5 706.2 L1604.7 710.3 M1619.4 724.4 L1623.5 728.4 L1627.5 732.3 L1631.5 736.4 L1635.4 740.4 M1649.2 754.7 L1653.2 759.0 L1657.2 763.3 L1661.2 767.6 L1665.1 772.0 L1669.1 776.4 L1672.9 780.8 L1676.8 785.2 L1680.6 789.6 L1684.4 794.1 L1688.2 798.6 L1692.0 803.1 M1704.8 819.0 L1708.3 823.5 L1711.7 827.9 L1715.1 832.4 L1718.5 836.9 M1730.2 852.9 L1733.6 857.7 L1736.9 862.5 L1740.2 867.3 L1743.5 872.2 L1746.7 877.1 L1749.9 882.0 L1753.1 886.9 L1756.3 891.8 L1759.4 896.8 L1762.4 901.8 L1765.4 906.8 M1775.7 924.3 L1778.4 929.3 L1781.2 934.2 L1783.8 939.1 L1786.5 944.1 M1795.6 961.7 L1798.1 967.0 L1800.7 972.3 L1803.2 977.5 L1805.7 982.8 L1808.1 988.2 L1810.5 993.5 L1812.9 998.9 L1815.2 1004.2 L1817.5 1009.6 L1819.7 1015.0 L1821.9 1020.4 M1829.3 1039.4 L1831.3 1044.7 L1833.2 1050.0 L1835.1 1055.3 L1836.9 1060.6 M1843.2 1079.4 L1845.0 1085.0 L1846.7 1090.6 L1848.4 1096.2 L1850.1 1101.8 L1851.7 1107.4 L1853.3 1113.0 L1854.9 1118.6 L1856.4 1124.3 L1857.9 1130.0 L1859.4 1135.6 L1860.8 1141.3 M1865.5 1161.1 L1866.8 1166.5 L1868.0 1172.0 L1869.2 1177.5 L1870.3 1183.0 M1874.2 1202.5 L1875.3 1208.2 L1876.3 1213.9 L1877.4 1219.6 L1878.4 1225.3 L1879.3 1231.0 L1880.3 1236.7 L1881.2 1242.5 L1882.1 1248.2 L1883.0 1253.9 L1883.9 1259.7 L1884.7 1265.4" stroke="#f92500" stroke-width="22.4"/>
<path d="M432.7 75.3 L437.5 81.7 L442.3 88.1 L447.0 94.6 L451.8 101.0 L456.5 107.4 L461.3 113.8 L466.1 120.2 L470.8 126.7 L475.6 133.1 L480.3 139.5 L485.1 145.9 L489.8 152.4 L494.6 158.8 L499.4 165.2 L504.1 171.6 L508.9 178.1 L513.6 184.5 L518.4 190.9 L523.1 197.4 L527.9 203.8 L532.6 210.2 L537.4 216.7 L542.1 223.1 L546.9 229.5 L551.6 236.0 L556.3 242.4 L561.1 248.8 L565.8 255.3 L570.6 261.7 L575.3 268.1 L580.0 274.6 L584.8 281.0 L589.5 287.5 L594.2 293.9 L599.0 300.3 L603.7 306.8 L608.4 313.2 L613.1 319.7 L617.9 326.1 L622.6 332.6 L627.3 339.0 L632.0 345.5 L636.7 352.0 L641.4 358.4 L646.2 364.9 L650.9 371.3 L655.6 377.8 L660.3 384.3 L665.0 390.7 L669.7 397.2 L674.4 403.7 L679.1 410.1 L683.8 416.6 L688.4 423.1 L693.1 429.6 L697.8 436.0 L702.5 442.5 L707.2 449.0 L711.8 455.5 L716.5 462.0 L721.2 468.5 L725.8 475.0 L730.5 481.5 L735.2 488.0 L739.8 494.5 L744.5 501.0 L749.1 507.5 L753.8 514.0 L758.4 520.5 L763.0 527.0 L767.7 533.5 L772.3 540.0 L776.9 546.5 L781.6 553.1 L786.2 559.6 L790.8 566.1 L795.4 572.6 L800.0 579.2 L804.6 585.7 L809.2 592.2 L813.8 598.8 L818.4 605.3 L823.0 611.9 L827.6 618.4 L832.1 625.0 L836.7 631.5 L841.3 638.1 L845.9 644.7 L850.4 651.2 L855.0 657.8 L859.5 664.4 L864.1 670.9 L868.6 677.5 L873.1 684.1 L877.7 690.7 L882.2 697.3 L886.7 703.9 L891.2 710.5 L895.8 717.1 L900.3 723.7 L904.8 730.3 L909.3 736.9 L913.8 743.5 L918.2 750.1 L922.7 756.7 L927.2 763.4 L931.7 770.0 L936.1 776.6 L940.6 783.3 L945.0 789.9 L949.5 796.5 L953.9 803.2 L958.4 809.8 L962.8 816.5 L967.2 823.1 L971.6 829.8 L976.1 836.5 L980.5 843.1 L984.9 849.8 L989.2 856.5 L993.6 863.2 L998.0 869.9 L1002.4 876.6 L1006.8 883.3 L1011.1 890.0 L1015.5 896.7 L1019.8 903.4 L1024.2 910.1 L1028.5 916.8 L1032.8 923.5 L1037.1 930.2 L1041.5 937.0 L1045.8 943.7 L1050.1 950.5 L1054.4 957.2 L1058.6 963.9 L1062.9 970.7 L1067.2 977.5 L1071.5 984.2 L1075.7 991.0 L1080.0 997.8 L1084.2 1004.5 L1088.4 1011.3 L1092.7 1018.1 L1096.9 1024.9 L1101.1 1031.7 L1105.3 1038.5 L1109.5 1045.3 L1113.7 1052.1 L1117.8 1058.9 L1122.0 1065.7 L1126.2 1072.6 L1130.3 1079.4 L1134.5 1086.2 L1138.6 1093.1 L1142.7 1099.9 L1146.9 1106.8 L1151.0 1113.6 L1155.1 1120.5 L1159.2 1127.3 L1163.3 1134.2 L1167.3 1141.1 L1171.4 1148.0 L1175.5 1154.9 L1179.5 1161.7 L1183.6 1168.6 L1187.6 1175.5 L1191.6 1182.4 L1195.7 1189.4 L1199.7 1196.3 L1203.7 1203.2 L1207.6 1210.1 L1211.6 1217.1 L1215.6 1224.0 L1219.6 1230.9 L1223.5 1237.9 L1227.5 1244.8 L1231.4 1251.8 L1235.3 1258.8 L1239.2 1265.7 L1243.1 1272.7 L1247.0 1279.7 L1250.9 1286.7" stroke="#00ff00" stroke-width="22.9"/>
</g></g>
<g shape-rendering="crispEdges">
<rect x="292" y="802" width="427" height="370" fill="#fff" stroke="#000" stroke-width="4"/>
<rect x="304" y="840" width="61" height="22" fill="#0000ff"/>
<rect x="304" y="930" width="21" height="22" fill="#ff0000"/>
<rect x="344" y="930" width="21" height="22" fill="#ff0000"/>
<rect x="304" y="1021" width="61" height="22" fill="#f92500"/>
<rect x="304" y="1110" width="63" height="22" fill="#00ff00"/>
</g>
<text filter="url(#bin)" transform="translate(371.0,878.0) scale(0.94,1)" font-size="76.5px" text-anchor="start" stroke="#000" stroke-width="0.4" stroke-linejoin="round">t=0.01 day</text>
<g fill="#fff" shape-rendering="crispEdges"><rect x="536.92" y="871.28" width="13.92" height="7.72"/><rect x="557.56" y="871.28" width="13.36" height="7.72"/></g>
<text filter="url(#bin)" transform="translate(371.0,968.3) scale(0.94,1)" font-size="76.5px" text-anchor="start" stroke="#000" stroke-width="0.4" stroke-linejoin="round">t=0.1 day</text>
<g fill="#fff" shape-rendering="crispEdges"><rect x="496.92" y="961.58" width="13.92" height="7.72"/><rect x="517.57" y="961.58" width="13.36" height="7.72"/></g>
<text filter="url(#bin)" transform="translate(371.0,1059.0) scale(0.94,1)" font-size="76.5px" text-anchor="start" stroke="#000" stroke-width="0.4" stroke-linejoin="round">t=1 day</text>
<g fill="#fff" shape-rendering="crispEdges"><rect x="436.95" y="1052.28" width="13.92" height="7.72"/><rect x="457.60" y="1052.28" width="13.36" height="7.72"/></g>
<text filter="url(#bin)" transform="translate(371.0,1150.3) scale(0.94,1)" font-size="76.5px" text-anchor="start" stroke="#000" stroke-width="0.4" stroke-linejoin="round">t=10 day</text>
<g fill="#fff" shape-rendering="crispEdges"><rect x="436.95" y="1143.58" width="13.92" height="7.72"/><rect x="457.60" y="1143.58" width="13.36" height="7.72"/></g>
<text filter="url(#bin)" transform="translate(266.0,90.8) scale(0.975,1)" font-size="53.5px" text-anchor="end" stroke="#000" stroke-width="0.5" stroke-linejoin="round">0</text>
<text filter="url(#bin)" transform="translate(265.7,212.6) scale(0.975,1)" font-size="53.5px" text-anchor="end" stroke="#000" stroke-width="0.5" stroke-linejoin="round">-0.1</text>
<g fill="#fff" shape-rendering="crispEdges"><rect x="239.11" y="207.55" width="10.45" height="6.10"/><rect x="254.66" y="207.55" width="10.04" height="6.10"/></g>
<text filter="url(#bin)" transform="translate(265.7,333.1) scale(0.975,1)" font-size="53.5px" text-anchor="end" stroke="#000" stroke-width="0.5" stroke-linejoin="round">-0.2</text>
<text filter="url(#bin)" transform="translate(265.7,453.6) scale(0.975,1)" font-size="53.5px" text-anchor="end" stroke="#000" stroke-width="0.5" stroke-linejoin="round">-0.3</text>
<text filter="url(#bin)" transform="translate(265.7,572.4) scale(0.975,1)" font-size="53.5px" text-anchor="end" stroke="#000" stroke-width="0.5" stroke-linejoin="round">-0.4</text>
<text filter="url(#bin)" transform="translate(265.7,694.6) scale(0.975,1)" font-size="53.5px" text-anchor="end" stroke="#000" stroke-width="0.5" stroke-linejoin="round">-0.5</text>
<text filter="url(#bin)" transform="translate(265.7,815.6) scale(0.975,1)" font-size="53.5px" text-anchor="end" stroke="#000" stroke-width="0.5" stroke-linejoin="round">-0.6</text>
<text filter="url(#bin)" transform="translate(265.7,936.6) scale(0.975,1)" font-size="53.5px" text-anchor="end" stroke="#000" stroke-width="0.5" stroke-linejoin="round">-0.7</text>
<text filter="url(#bin)" transform="translate(265.7,1056.6) scale(0.975,1)" font-size="53.5px" text-anchor="end" stroke="#000" stroke-width="0.5" stroke-linejoin="round">-0.8</text>
<text filter="url(#bin)" transform="translate(265.7,1177.6) scale(0.975,1)" font-size="53.5px" text-anchor="end" stroke="#000" stroke-width="0.5" stroke-linejoin="round">-0.9</text>
<text filter="url(#bin)" transform="translate(265.7,1298.1) scale(0.975,1)" font-size="53.5px" text-anchor="end" stroke="#000" stroke-width="0.5" stroke-linejoin="round">-1</text>
<g fill="#fff" shape-rendering="crispEdges"><rect x="239.11" y="1293.05" width="10.45" height="6.10"/><rect x="254.66" y="1293.05" width="10.04" height="6.10"/></g>
<text filter="url(#bin)" transform="translate(317.2,1335.6) scale(1,1)" font-size="53.5px" text-anchor="end" stroke="#000" stroke-width="0.5" stroke-linejoin="round">110</text>
<g fill="#fff" shape-rendering="crispEdges"><rect x="230.46" y="1330.55" width="10.68" height="6.10"/><rect x="246.37" y="1330.55" width="10.26" height="6.10"/><rect x="260.22" y="1330.55" width="10.68" height="6.10"/><rect x="276.12" y="1330.55" width="10.26" height="6.10"/></g>
<text filter="url(#bin)" transform="translate(825.2,1335.6) scale(1,1)" font-size="53.5px" text-anchor="end" stroke="#000" stroke-width="0.5" stroke-linejoin="round">115</text>
<g fill="#fff" shape-rendering="crispEdges"><rect x="738.46" y="1330.55" width="10.68" height="6.10"/><rect x="754.37" y="1330.55" width="10.26" height="6.10"/><rect x="768.22" y="1330.55" width="10.68" height="6.10"/><rect x="784.12" y="1330.55" width="10.26" height="6.10"/></g>
<text filter="url(#bin)" transform="translate(1337.2,1335.6) scale(1,1)" font-size="53.5px" text-anchor="end" stroke="#000" stroke-width="0.5" stroke-linejoin="round">120</text>
<g fill="#fff" shape-rendering="crispEdges"><rect x="1250.46" y="1330.55" width="10.68" height="6.10"/><rect x="1266.37" y="1330.55" width="10.26" height="6.10"/></g>
<text filter="url(#bin)" transform="translate(1847.2,1335.6) scale(1,1)" font-size="53.5px" text-anchor="end" stroke="#000" stroke-width="0.5" stroke-linejoin="round">125</text>
<g fill="#fff" shape-rendering="crispEdges"><rect x="1760.46" y="1330.55" width="10.68" height="6.10"/><rect x="1776.37" y="1330.55" width="10.26" height="6.10"/></g>
<text filter="url(#bin)" transform="translate(1036.4,1400.0) scale(0.9356,1)" font-size="65.3px" text-anchor="middle" stroke="#000" stroke-width="0.7" stroke-linejoin="round">Rock Temperature (C)</text>
<text filter="url(#bin)" transform="translate(93.2,682.4) rotate(-90) scale(0.984,1)" font-size="65.5px" text-anchor="middle" stroke="#000" stroke-width="0.7" stroke-linejoin="round">Rock depth (m)</text>
</svg>
</body></html>
